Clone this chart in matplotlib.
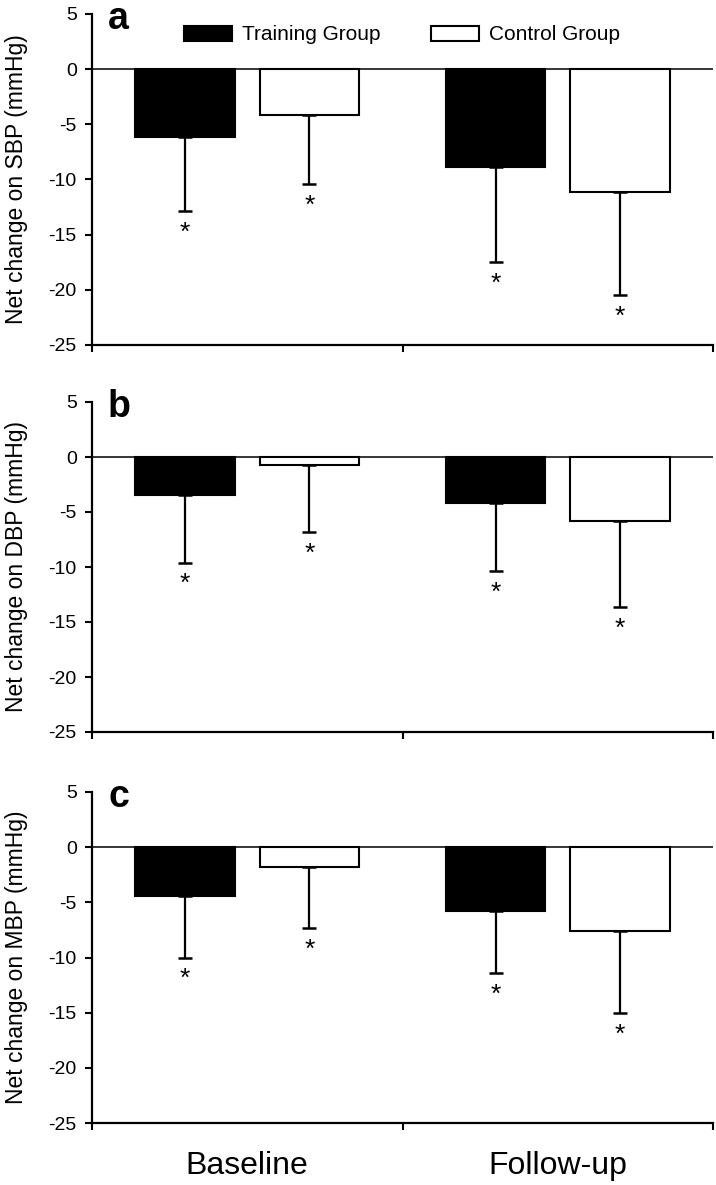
import numpy as np
import matplotlib
matplotlib.use("Agg")
import matplotlib.pyplot as plt

plt.rcParams['font.family'] = ['Liberation Sans', 'DejaVu Sans']
plt.rcParams['axes.unicode_minus'] = False

# data (mmHg)
groups = ['Baseline', 'Follow-up']
panels = ['a', 'b', 'c']
ylabels = ['Net change on SBP (mmHg)', 'Net change on DBP (mmHg)', 'Net change on MBP (mmHg)']

training_mean = [[-6.15, -8.85], [-3.48, -4.18], [-4.43, -5.82]]
training_sd = [[6.70, 8.65], [6.12, 6.18], [5.57, 5.61]]
control_mean = [[-4.12, -11.10], [-0.75, -5.85], [-1.82, -7.64]]
control_sd = [[6.31, 9.35], [6.05, 7.81], [5.48, 7.42]]

fig = plt.figure(figsize=(7.16, 11.85), dpi=100)

W = 716.0
H = 1185.0
# (top, bottom) pixel rows of each panel
rows = [(14, 345), (402, 732), (792, 1123)]

x = np.array([0.5, 1.5])
off = 0.2
bw = 0.32

axes = []
for i in range(3):
    top, bot = rows[i]
    ax = fig.add_axes([92 / W, 1 - bot / H, 621 / W, (bot - top) / H])
    axes.append(ax)

    ax.axhline(0, color='black', lw=1.1, zorder=1)
    ax.bar(x - off, training_mean[i], bw, color='black', edgecolor='black',
           lw=1.5, zorder=2, label='Training Group')
    ax.bar(x + off, control_mean[i], bw, color='white', edgecolor='black',
           lw=1.5, zorder=2, label='Control Group')

    for xs, m, s in [(x - off, training_mean[i], training_sd[i]),
                     (x + off, control_mean[i], control_sd[i])]:
        m = np.array(m)
        s = np.array(s)
        ax.errorbar(xs, m, yerr=[s, np.zeros_like(s)], fmt='none',
                    ecolor='black', elinewidth=1.6, capsize=4.8,
                    capthick=1.8, zorder=3)
        for xi, lo in zip(xs, m - s):
            ax.annotate('*', xy=(xi, lo), xytext=(0, -7),
                        textcoords='offset points', ha='center', va='top',
                        fontsize=19)

    ax.set_xlim(0, 2)
    ax.set_ylim(-25, 5)
    ax.set_yticks(np.arange(-25, 6, 5))
    ax.set_xticks([0, 1, 2])
    ax.set_xticklabels([])
    ax.set_xticks(x, minor=True)
    ax.tick_params(axis='x', which='minor', length=0)
    ax.tick_params(axis='both', which='major', direction='out', length=5,
                   width=1.5, labelsize=14, pad=6)
    for sp in ['top', 'right']:
        ax.spines[sp].set_visible(False)
    for sp in ['left', 'bottom']:
        ax.spines[sp].set_linewidth(1.6)

    ax.set_ylabel(ylabels[i], fontsize=16.5)
    ax.yaxis.set_label_coords(-0.103, 0.5)

    fig.text(108 / W, 1 - (top - 13) / H, panels[i], fontsize=27,
             fontweight='bold', va='top', ha='left')

axes[2].set_xticklabels(groups, minor=True, fontsize=23)
axes[2].tick_params(axis='x', which='minor', pad=20)

axes[0].legend(loc='center', bbox_to_anchor=(402 / W, 1 - 35 / H),
               bbox_transform=fig.transFigure, ncol=2, frameon=False,
               fontsize=15, handlelength=2.3, handleheight=0.7,
               handletextpad=0.5, columnspacing=2.4)

fig.savefig('out.png', dpi=100)
